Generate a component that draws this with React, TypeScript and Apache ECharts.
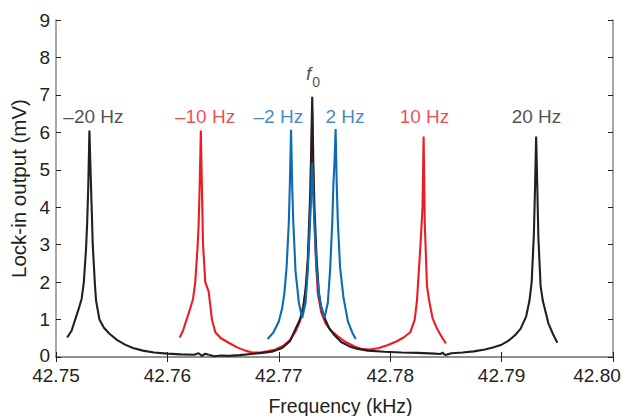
import React, { useEffect, useRef } from "react";
import * as echarts from "echarts";

// ---- Data (frequency in kHz, lock-in output in mV) ----
const xTicks = [42.75, 42.76, 42.77, 42.78, 42.79, 42.8];

// Black sweep: -20 Hz
const blackAX = [42.7510, 42.7514, 42.7517, 42.7520, 42.7523, 42.7525, 42.7527, 42.7528, 42.7529, 42.7530, 42.7531, 42.7533, 42.7535, 42.7536, 42.7539, 42.7543, 42.7548, 42.7555, 42.7562, 42.7569, 42.7578, 42.7588, 42.7600, 42.7612, 42.7624, 42.7628, 42.7631, 42.7634, 42.7637];
const blackAY = [0.52, 0.70, 0.98, 1.25, 1.55, 2.0, 2.9, 3.6, 4.6, 6.05, 5.0, 3.0, 1.9, 1.5, 1.0, 0.78, 0.62, 0.45, 0.33, 0.24, 0.17, 0.12, 0.09, 0.07, 0.06, 0.10, 0.03, 0.09, 0.06];

// Black sweep: f0
const blackBX = [42.7637, 42.7642, 42.7648, 42.7655, 42.7665, 42.7675, 42.7685, 42.7695, 42.7703, 42.7710, 42.7715, 42.7719, 42.7722, 42.7724, 42.7726, 42.7728, 42.7729, 42.7730, 42.7731, 42.7732, 42.7734, 42.7736, 42.7738, 42.7741, 42.7745, 42.7750, 42.7756, 42.7763, 42.7770, 42.7780, 42.7795, 42.7810, 42.7825, 42.7840, 42.7845, 42.7847, 42.7849];
const blackBY = [0.06, 0.02, 0.04, 0.03, 0.05, 0.08, 0.11, 0.15, 0.24, 0.42, 0.75, 1.0, 1.35, 1.8, 2.6, 4.2, 5.4, 6.95, 5.2, 4.0, 2.6, 1.7, 1.35, 1.05, 0.78, 0.58, 0.40, 0.29, 0.22, 0.17, 0.14, 0.12, 0.11, 0.09, 0.08, 0.12, 0.05];

// Black sweep: +20 Hz
const blackCX = [42.7849, 42.7855, 42.7865, 42.7875, 42.7885, 42.7893, 42.7900, 42.7906, 42.7912, 42.7917, 42.7922, 42.7925, 42.7927, 42.7929, 42.7930, 42.7931, 42.7932, 42.7933, 42.7935, 42.7937, 42.7942, 42.7946, 42.7950];
const blackCY = [0.05, 0.10, 0.12, 0.15, 0.20, 0.26, 0.33, 0.43, 0.58, 0.75, 1.08, 1.5, 2.0, 3.3, 4.5, 5.89, 4.6, 3.2, 1.9, 1.5, 0.9, 0.62, 0.38];

// Red sweep: -10 Hz, f0, +10 Hz
const redX = [42.7611, 42.7614, 42.7617, 42.7620, 42.7623, 42.7625, 42.7627, 42.7628, 42.7629, 42.7630, 42.7631, 42.7632, 42.7634, 42.7637, 42.7640, 42.7643, 42.7648, 42.7655, 42.7663, 42.7670, 42.7676, 42.7683, 42.7690, 42.7697, 42.7704, 42.7710, 42.7715, 42.7719, 42.7722, 42.7725, 42.7727, 42.7729, 42.7730, 42.7731, 42.7733, 42.7735, 42.7738, 42.7742, 42.7747, 42.7753, 42.7760, 42.7768, 42.7775, 42.7782, 42.7790, 42.7798, 42.7806, 42.7812, 42.7818, 42.7822, 42.7824, 42.7827, 42.7829, 42.7830, 42.7831, 42.7833, 42.7835, 42.7838, 42.7842, 42.7846, 42.7850];
const redY = [0.52, 0.70, 0.98, 1.25, 1.55, 2.0, 2.9, 3.5, 4.6, 6.05, 4.5, 3.0, 2.0, 1.75, 1.0, 0.66, 0.50, 0.38, 0.25, 0.17, 0.12, 0.12, 0.15, 0.20, 0.30, 0.45, 0.68, 0.95, 1.3, 2.0, 3.0, 4.5, 6.6, 4.5, 2.8, 1.7, 1.2, 0.9, 0.70, 0.55, 0.40, 0.28, 0.21, 0.20, 0.24, 0.32, 0.42, 0.52, 0.66, 1.0, 1.5, 2.9, 4.0, 5.89, 3.6, 1.9, 1.5, 1.04, 0.76, 0.55, 0.36];

// Blue sweep: -2 Hz, f0, +2 Hz
const blueX = [42.7690, 42.7695, 42.7700, 42.7703, 42.7705, 42.7707, 42.7709, 42.7710, 42.7711, 42.7712, 42.7713, 42.7715, 42.7718, 42.7721, 42.7724, 42.7726, 42.7728, 42.7729, 42.7730, 42.7731, 42.7732, 42.7734, 42.7737, 42.7741, 42.7744, 42.7746, 42.7748, 42.7749, 42.7750, 42.7751, 42.7752, 42.7753, 42.7755, 42.7758, 42.7762, 42.7766, 42.7769];
const blueY = [0.48, 0.65, 0.95, 1.3, 1.7, 2.4, 3.6, 4.7, 6.07, 4.6, 3.6, 2.3, 1.45, 1.04, 1.45, 2.3, 3.6, 4.3, 5.19, 4.3, 3.6, 2.3, 1.45, 1.04, 1.45, 2.3, 3.6, 4.6, 5.2, 6.09, 4.6, 3.6, 2.4, 1.6, 0.95, 0.65, 0.48];

// Peak annotations
const labelText = ["–20 Hz", "–10 Hz", "–2 Hz", "{i|f}{s|0}", "2 Hz", "10 Hz", "20 Hz"];
const labelX = [42.75336, 42.76338, 42.76996, 42.77307, 42.77594, 42.78308, 42.79313];
const labelY = [6.43, 6.43, 6.43, 7.62, 6.43, 6.43, 6.43];
const labelColor = ["#231f20", "#ed1c24", "#0b6bb5", "#231f20", "#0b6bb5", "#ed1c24", "#231f20"];

const BLACK = "#231f20";
const RED = "#ed1c24";
const BLUE = "#0b6bb5";
const AXIS = "#8a8a8a";
const FONT = "'Liberation Sans', Arial, Helvetica, sans-serif";

const pairs = (xs: number[], ys: number[]) => xs.map((x, i) => [x, ys[i]]);

export default function App() {
  const ref = useRef<HTMLDivElement>(null);
  useEffect(() => {
    if (!ref.current) return;
    const chart = echarts.init(ref.current, undefined, { renderer: "svg" });
    const lineSeries = (data: number[][], color: string) => ({
      type: "line",
      data,
      showSymbol: false,
      symbol: "none",
      lineStyle: { color, width: 2.1 },
      itemStyle: { color },
      silent: true,
      z: 2,
    });
    const axisCommon = {
      axisLine: { show: true, lineStyle: { color: AXIS, width: 1.5 } },
      axisTick: { show: true, inside: true, length: 5, lineStyle: { color: BLACK, width: 1 } },
      splitLine: { show: false },
    };
    const lastTick = xTicks[xTicks.length - 1];
    chart.setOption({
      animation: false,
      backgroundColor: "#ffffff",
      grid: { left: 56, right: 10, top: 20, bottom: 59, containLabel: false, outerBoundsMode: "none" },
      xAxis: [
        {
          type: "value",
          min: 42.75,
          max: 42.8,
          interval: 0.01,
          position: "bottom",
          ...axisCommon,
          axisLabel: {
            show: true,
            fontSize: 19,
            lineHeight: 17,
            color: BLACK,
            fontFamily: FONT,
            margin: 10,
            showMinLabel: true,
            showMaxLabel: true,
            rich: {
              last: { fontSize: 19, lineHeight: 17, color: BLACK, fontFamily: FONT, padding: [0, 32, 0, 0] },
            },
            formatter: (v: number) => {
              const t = xTicks.find((k) => Math.abs(k - v) < 1e-6);
              const s = (t ?? v).toFixed(2);
              return Math.abs(v - lastTick) < 1e-6 ? `{last|${s}}` : s;
            },
          },
          name: "Frequency (kHz)",
          nameLocation: "middle",
          nameGap: 39,
          nameTextStyle: { fontSize: 19.5, color: BLACK, fontFamily: FONT, padding: [0, 0, 0, 12] },
        },
        {
          type: "value",
          min: 42.75,
          max: 42.8,
          interval: 0.01,
          position: "top",
          ...axisCommon,
          axisLabel: { show: false },
        },
      ],
      yAxis: [
        {
          type: "value",
          min: 0,
          max: 9,
          interval: 1,
          position: "left",
          ...axisCommon,
          axisLabel: {
            show: true,
            fontSize: 19,
            lineHeight: 16,
            color: BLACK,
            fontFamily: FONT,
            margin: 6,
            rich: {
              zero: { fontSize: 19, lineHeight: 16, color: BLACK, fontFamily: FONT, padding: [0, 0, 4, 0] },
            },
            formatter: (v: number) => (v === 0 ? "{zero|0}" : String(v)),
          },
          name: "Lock-in output (mV)",
          nameLocation: "middle",
          nameGap: 19,
          nameTextStyle: { fontSize: 20.5, color: BLACK, fontFamily: FONT },
        },
        {
          type: "value",
          min: 0,
          max: 9,
          interval: 1,
          position: "right",
          ...axisCommon,
          axisLabel: { show: false },
        },
      ],
      series: [
        lineSeries(pairs(redX, redY), RED),
        lineSeries(pairs(blackAX, blackAY), BLACK),
        lineSeries(pairs(blackBX, blackBY), BLACK),
        lineSeries(pairs(blackCX, blackCY), BLACK),
        lineSeries(pairs(blueX, blueY), BLUE),
        {
          type: "scatter",
          symbolSize: 0,
          silent: true,
          z: 5,
          data: labelX.map((x, i) => ({
            value: [x, labelY[i]],
            label: {
              show: true,
              position: "inside",
              formatter: labelText[i],
              color: labelColor[i],
              fontSize: 19,
              fontFamily: FONT,
              rich: {
                i: { fontSize: 19, fontStyle: "italic", color: BLACK, fontFamily: FONT, lineHeight: 22, verticalAlign: "bottom" },
                s: { fontSize: 14, color: BLACK, fontFamily: FONT, lineHeight: 22, verticalAlign: "bottom", padding: [0, 0, -6, 1] },
              },
            },
          })),
        },
      ],
    });
    return () => chart.dispose();
  }, []);
  return (
    <div
      ref={ref}
      style={{ position: "fixed", left: 0, top: 0, width: 623, height: 416, background: "#fff" }}
    />
  );
}
